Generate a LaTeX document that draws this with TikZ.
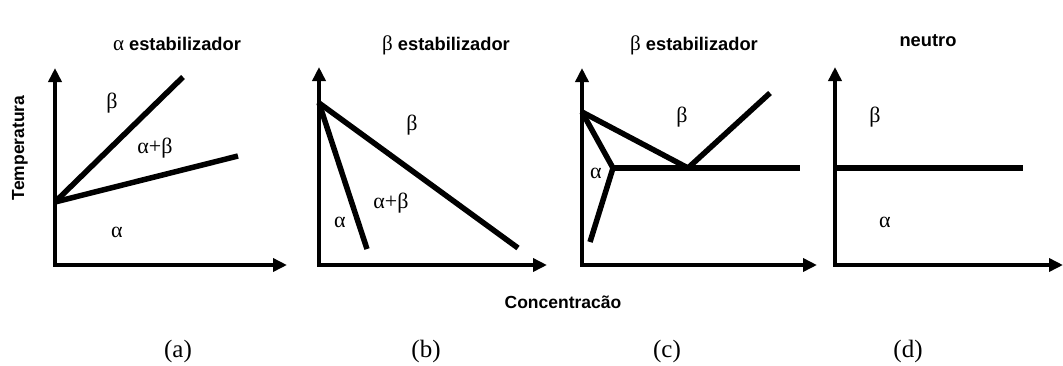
\documentclass[tikz,border=0pt]{standalone}
\usepackage{fontspec}
\setmainfont{Liberation Serif}
\setsansfont{Liberation Sans}
\usetikzlibrary{arrows.meta}
\begin{document}
\begin{tikzpicture}[x=1pt,y=-1pt,
  axis/.style={line width=4.5pt,{Triangle[length=14pt,width=13pt]}-{Triangle[length=14pt,width=13pt]}},
  phase/.style={line width=5.5pt},
  lbl/.style={font=\fontsize{22}{22}\selectfont, inner sep=0},
  ttl/.style={font=\sffamily\bfseries\fontsize{18.3}{18}\selectfont, inner sep=0, anchor=base},
  subcap/.style={font=\fontsize{25}{25}\selectfont, inner sep=0, anchor=base},
  axlbl/.style={font=\sffamily\bfseries\fontsize{17.5}{17}\selectfont, inner sep=0}
]
\useasboundingbox (0,0) rectangle (1063,365);
% ---------- (a)
\coordinate (aT) at (55,68); \coordinate (aO) at (55,265); \coordinate (aR) at (287,265);
\coordinate (aP) at (55,202); \coordinate (a1) at (183,77); \coordinate (a2) at (238,156);
\draw[axis] (aT) -- (aO) -- (aR);
\draw[phase] (aP) -- (a1);
\draw[phase] (aP) -- (a2);
\node[lbl] (ab) at (112,103) {β};
\node[lbl] (aab) at (155,148) {α+β};
\node[lbl] (aa) at (117,232) {α};
\node[ttl] (at) at (177,50) {{\rmfamily\mdseries\fontsize{21}{21}\selectfont α} estabilizador};
% ---------- (b)
\coordinate (bT) at (319,67); \coordinate (bO) at (319,265); \coordinate (bR) at (547,265);
\coordinate (bP) at (319,103); \coordinate (b1) at (518,248); \coordinate (b2) at (367,249);
\draw[axis] (bT) -- (bO) -- (bR);
\draw[phase] (bP) -- (b1);
\draw[phase] (bP) -- (b2);
\node[lbl] (bb) at (412,125) {β};
\node[lbl] (bab) at (391,203) {α+β};
\node[lbl] (ba) at (340,222) {α};
\node[ttl] (bt) at (446,50) {{\rmfamily\mdseries\fontsize{21}{21}\selectfont β} estabilizador};
% ---------- (c)
\coordinate (cT) at (582,68); \coordinate (cO) at (582,265); \coordinate (cR) at (817,265);
\coordinate (cP) at (582,112); \coordinate (cE) at (688,168); \coordinate (cQ) at (613,168);
\coordinate (cH) at (800,168); \coordinate (cD) at (590,242); \coordinate (cU) at (770,93);
\draw[axis] (cT) -- (cO) -- (cR);
\draw[phase] (cP) -- (cE);
\draw[phase] (cP) -- (cQ);
\draw[phase] (cQ) -- (cH);
\draw[phase] (cQ) -- (cD);
\draw[phase] (cE) -- (cU);
\node[lbl] (cb) at (682,117) {β};
\node[lbl] (ca) at (596,173) {α};
\node[ttl] (ct) at (694,50) {{\rmfamily\mdseries\fontsize{21}{21}\selectfont β} estabilizador};
% ---------- (d)
\coordinate (dT) at (835,67); \coordinate (dO) at (835,265); \coordinate (dR) at (1063,265);
\coordinate (dP) at (835,168); \coordinate (dH) at (1023,168);
\draw[axis] (dT) -- (dO) -- (dR);
\draw[phase] (dP) -- (dH);
\node[lbl] (db) at (875,117) {β};
\node[lbl] (da) at (885,222) {α};
\node[ttl] (dt) at (928,46) {neutro};
% ---------- labels
\node[axlbl, rotate=90] (temp) at (20,148) {Temperatura};
\node[axlbl, anchor=base] (conc) at (563,308) {Concentracão};
\node[subcap] (sa) at (178,357) {(a)};
\node[subcap] (sb) at (426,357) {(b)};
\node[subcap] (sc) at (667,357) {(c)};
\node[subcap] (sd) at (908,357) {(d)};
\end{tikzpicture}
\end{document}
